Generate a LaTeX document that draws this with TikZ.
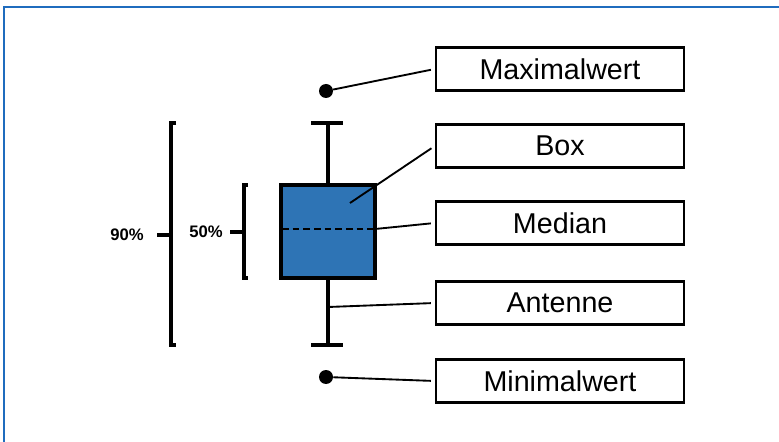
\documentclass[tikz,border=0pt]{standalone}
\usepackage{fontspec}
\setmainfont{Liberation Sans}
\usetikzlibrary{positioning}
\definecolor{framblue}{RGB}{31,108,190}
\definecolor{boxblue}{RGB}{46,116,181}
\tikzset{
	labelbox/.style={draw, line width=1.8pt, minimum width=186pt, minimum height=32pt, inner sep=0pt, font=\fontsize{21.5}{25}\selectfont},
	pct/.style={font=\fontsize{12.5}{15}\selectfont\bfseries, inner sep=0pt},
	dot/.style={circle, fill, inner sep=0pt, minimum size=10.5pt},
	conn/.style={line width=1.4pt, shorten >=3pt},
	brack/.style={line width=2.4pt}
}

\begin{document}
\begin{tikzpicture}[x=0.75pt, y=-0.75pt]
	\useasboundingbox (0,0) rectangle (779,442);
	\draw[framblue, line width=2pt] (4,442) -- (4,7) -- (779,7);

	% Beschriftungen
	\node[labelbox] (max) at (560,69) {Maximalwert};
	\node[labelbox] (box) at (560,146) {Box};
	\node[labelbox] (med) at (560,223) {Median};
	\node[labelbox] (ant) at (560,303) {Antenne};
	\node[labelbox] (min) at (560,381) {Minimalwert};

	% Boxplot
	\begin{scope}[line width=2.6pt]
		\draw (328,123) -- (328,185);
		\draw (328,278) -- (328,345);
		\draw (311,123) -- (343,123);
		\draw (311,345) -- (343,345);
		\draw[fill=boxblue] (281,185) rectangle (375,278);
	\end{scope}
	\draw[line width=2pt, dash pattern=on 5pt off 3pt] (282,229) -- (374,229);
	\node[dot] (pmax) at (326,91) {};
	\node[dot] (pmin) at (326,377) {};
	\coordinate (pbox) at (350,203);
	\coordinate (pmed) at (375,229);
	\coordinate (pant) at (328,307);

	\draw[conn] (pmax) -- (max.west);
	\draw[conn] (pbox) -- (box.west);
	\draw[conn] (pmed) -- (med.west);
	\draw[conn] (pant) -- (ant.west);
	\draw[conn] (pmin) -- (min.west);

	% Klammern
	\draw[brack] (176,123) -- (171,123) -- (171,345) -- (176,345);
	\draw[brack] (248,185) -- (244,185) -- (244,278) -- (248,278);
	\coordinate (k90) at (157,235);
	\coordinate (k50) at (230,232);
	\draw[brack] (k90) -- (171,235);
	\draw[brack] (k50) -- (244,232);
	\node[pct] (l90) at (127,235) {90\%};
	\node[pct] (l50) at (206,232) {50\%};
\end{tikzpicture}
\end{document}
